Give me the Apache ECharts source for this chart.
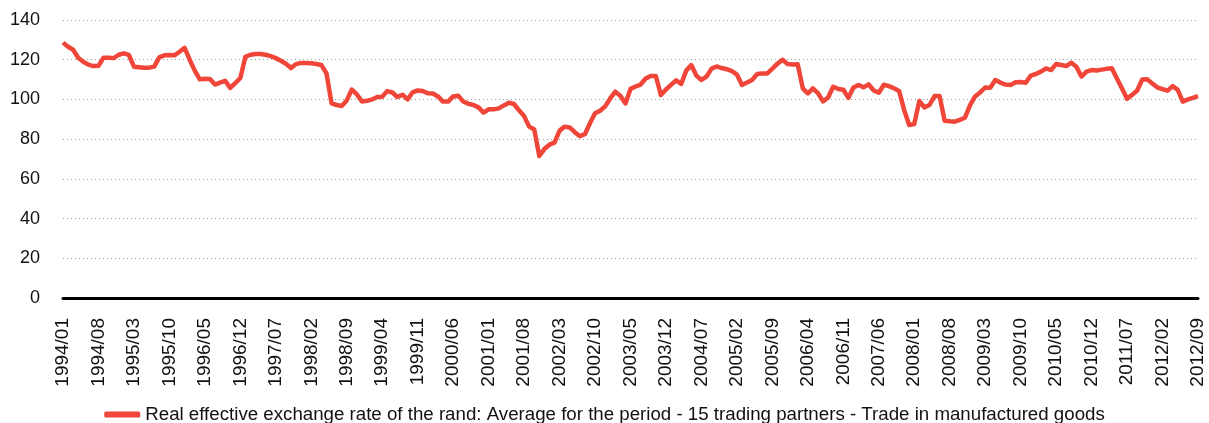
<!DOCTYPE html>
<html>
<head>
<meta charset="utf-8">
<script src="https://cdn.jsdelivr.net/npm/echarts@6/dist/echarts.min.js"></script>
<style>
	html,body{margin:0;padding:0;background:#fff;}
	#chart{width:1209px;height:423px;}
</style>
</head>
<body>
<div id="chart"></div>
<script>
// monthly periods 1994/01 .. 2012/09
var startYear = 1994, endYear = 2012, endMonth = 9;
var seriesName = 'Real effective exchange rate of the rand: Average for the period - 15 trading partners - Trade in manufactured goods';

var y1994 = [128.6, 126.5, 125, 121, 119, 117.5, 116.8, 117, 121, 121, 120.8, 122.5];
var y1995 = [123.2, 122.4, 116.5, 116.2, 115.9, 116, 116.5, 121.2, 122.2, 122.4, 122.2, 124];
var y1996 = [126, 120, 114.5, 110.1, 110.4, 110.3, 107.5, 108.5, 109.4, 105.8, 108.2, 110.8];
var y1997 = [121.5, 122.5, 122.9, 122.9, 122.5, 121.8, 120.8, 119.5, 118, 115.8, 117.8, 118.4];
var y1998 = [118.3, 118.2, 117.8, 117.3, 113.1, 98, 97.2, 96.7, 99.5, 105, 102.5, 99];
var y1999 = [99.3, 100, 101.2, 101.4, 104.2, 103.5, 101.2, 102.4, 100, 103.6, 104.5, 104.2];
var y2000 = [103.1, 103, 101.5, 98.9, 98.9, 101.5, 101.8, 99, 97.8, 97.2, 96, 93.3];
var y2001 = [95, 95, 95.5, 97, 98.3, 97.7, 94.5, 91.6, 86.3, 84.9, 71.5, 75];
var y2002 = [77.2, 78.2, 84.3, 86.3, 85.9, 83.5, 81.5, 82.5, 88, 93, 94.3, 96.5];
var y2003 = [100.5, 103.9, 101.8, 98, 105.3, 106.5, 107.5, 110.5, 111.8, 111.8, 102.2, 105];
var y2004 = [107.3, 109.6, 107.8, 114.5, 117.3, 112, 109.8, 111.5, 115.5, 116.6, 115.8, 115.2];
var y2005 = [114.3, 112.5, 107.3, 108.5, 109.8, 112.8, 113, 113.1, 115.5, 118, 120, 117.8];
var y2006 = [117.6, 117.7, 105.6, 103, 105.6, 103.2, 99, 101, 106.4, 105.3, 104.9, 100.8];
var y2007 = [106, 107.3, 106.1, 107.6, 104.5, 103.4, 107.4, 106.7, 105.6, 104.3, 94.7, 87.1];
var y2008 = [87.6, 99.2, 96, 97.2, 101.7, 101.7, 89.3, 89, 88.8, 89.7, 90.8, 97];
var y2009 = [101.5, 103.5, 106, 105.9, 109.8, 108.5, 107.5, 107.3, 108.6, 108.8, 108.4, 112];
var y2010 = [112.8, 114, 115.6, 114.8, 117.8, 117.3, 116.8, 118.5, 116.5, 111.5, 114, 114.8];
var y2011 = [114.6, 115, 115.4, 115.7, 110.5, 105.5, 100.3, 102.3, 104.5, 110, 110.1, 108];
var y2012 = [106, 105.2, 104.4, 106.7, 104.8, 98.9, 100, 100.8, 101.7];

var yTicks = [0, 20, 40, 60, 80, 100, 120, 140];

(function(){
	var values = [].concat(y1994, y1995, y1996, y1997, y1998, y1999, y2000, y2001, y2002,
		y2003, y2004, y2005, y2006, y2007, y2008, y2009, y2010, y2011, y2012);

	var categories = [];
	for(var y = startYear; y <= endYear; y++){
		var last = (y == endYear) ? endMonth : 12;
		for(var m = 1; m <= last; m++){
			categories.push(y + '/' + (m < 10 ? '0' + m : m));
		}
	}

	var font = '"Liberation Sans", Arial, Helvetica, sans-serif';
	var myChart = echarts.init(document.getElementById('chart'));
	myChart.setOption({
		animation: false,
		textStyle: {fontFamily: font},
		grid: {left: 63, right: 11, top: 20, bottom: 125},
		legend: {
			data: [seriesName],
			bottom: -6,
			left: 'center',
			itemWidth: 36,
			itemHeight: 6,
			itemGap: 10,
			icon: 'roundRect',
			textStyle: {fontSize: 18.7, color: '#111', fontFamily: font}
		},
		xAxis: {
			type: 'category',
			data: categories,
			boundaryGap: false,
			axisLine: {show: true, lineStyle: {color: '#000', width: 3}},
			axisTick: {show: false},
			axisLabel: {
				interval: 6,
				rotate: 90,
				margin: 20,
				fontSize: 19,
				color: '#111',
				fontFamily: font
			},
			splitLine: {show: false}
		},
		yAxis: {
			type: 'value',
			min: yTicks[0],
			max: yTicks[yTicks.length - 1],
			interval: 20,
			axisLine: {show: false},
			axisTick: {show: false},
			axisLabel: {fontSize: 18, color: '#111', margin: 23, fontFamily: font},
			splitLine: {show: true, lineStyle: {color: '#999', type: [1, 3], width: 1}}
		},
		series: [{
			name: seriesName,
			type: 'line',
			data: values,
			showSymbol: false,
			symbol: 'none',
			lineStyle: {color: '#f0463a', width: 4.5, join: 'round'},
			itemStyle: {color: '#f0463a'},
			z: 3
		}]
	});
})();
</script>
</body>
</html>
